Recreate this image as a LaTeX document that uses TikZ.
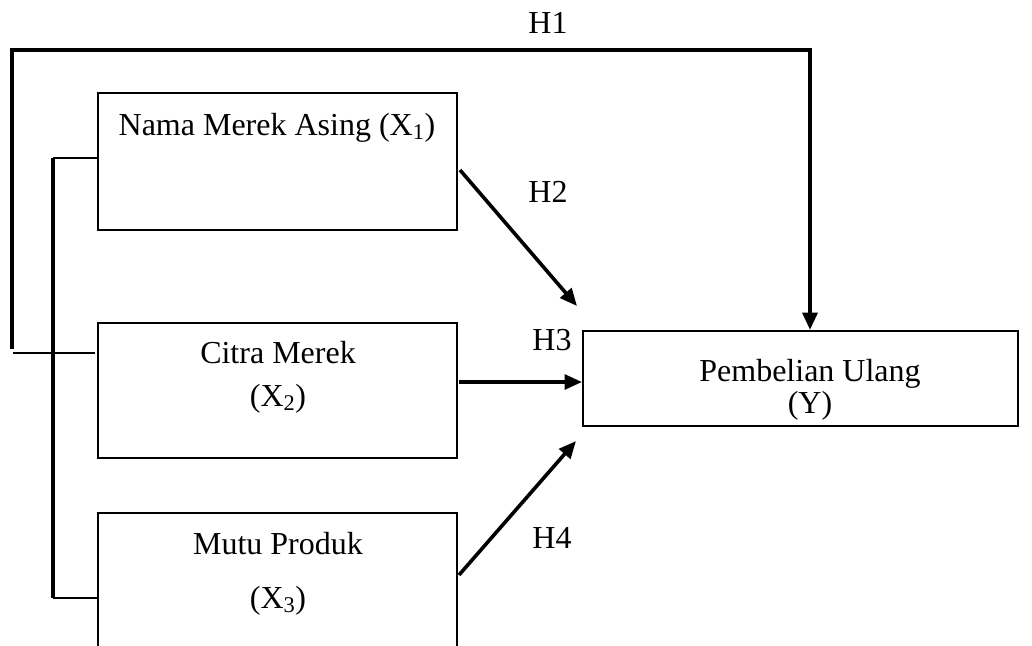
\documentclass[tikz,border=0pt]{standalone}
\usepackage{fontspec}
\setmainfont{Liberation Serif}
\usetikzlibrary{calc,arrows.meta}

\begin{document}
\begin{tikzpicture}[x=0.75pt,y=-0.75pt]
\tikzset{varbox/.style={draw,line width=1.5pt,inner sep=0pt,minimum width=269.25pt},
boxtext/.style={font=\fontsize{24}{28}\selectfont,anchor=base,inner sep=0pt},
arrline/.style={line width=2.7pt,-{Triangle[length=13pt,width=11pt]}},
linkline/.style={line width=2.2pt}}

\clip (0,0) rectangle (1032,646);

%% Boxes
\node (x1) [varbox,minimum height=102.75pt] at (277.5,161.5) {};
\node (x2) [varbox,minimum height=101.25pt] at (277.5,390.5) {};
\node (x3) [varbox,minimum height=102.75pt] at (277.5,581.5) {};
\node (y) [varbox,minimum width=326.25pt,minimum height=71.25pt] at (800.5,378.5) {};

\node (x1a) [boxtext] at (277,135) {Nama Merek Asing (X\textsubscript{1})};
\node (x2a) [boxtext] at (278,363) {Citra Merek};
\node (x2b) [boxtext] at (278,406) {(X\textsubscript{2})};
\node (x3a) [boxtext] at (278,554) {Mutu Produk};
\node (x3b) [boxtext] at (278,608) {(X\textsubscript{3})};
\node (ya) [boxtext] at (810,381) {Pembelian Ulang};
\node (yb) [boxtext] at (810,413) {(Y)};

\node (h1) [boxtext] at (548,33) {H1};
\node (h2) [boxtext] at (548,202) {H2};
\node (h3) [boxtext] at (552,350) {H3};
\node (h4) [boxtext] at (552,548) {H4};

%% Edges
\coordinate (h1foot) at (12,349);
\coordinate (h1top) at (810,50);
\coordinate (h1low) at (13,353);
\coordinate (h1in) at (95,353);
\draw[arrline,line width=3pt] (h1foot) |- (h1top) -- (h1top |- y.north);
\draw[linkline] (h1low) -- (h1in);

\draw[arrline] ($(x1.east)+(2,8.5)$) -- ($(y.north west)+(-5,-24)$);
\draw[arrline] ($(x2.east)+(1,-8.5)$) -- ($(y.west)+(0,3.5)$);
\draw[arrline] ($(x3.east)+(1,-6.5)$) -- ($(y.south west)+(-6,14)$);

\coordinate (brtop) at (53,158);
\coordinate (brbot) at (53,598);
\draw[line width=3.4pt] (brtop) -- (brbot);
\draw[linkline] (brtop) -- (x1.west |- brtop);
\draw[linkline] (brbot) -- (x3.west |- brbot);

\end{tikzpicture}
\end{document}
